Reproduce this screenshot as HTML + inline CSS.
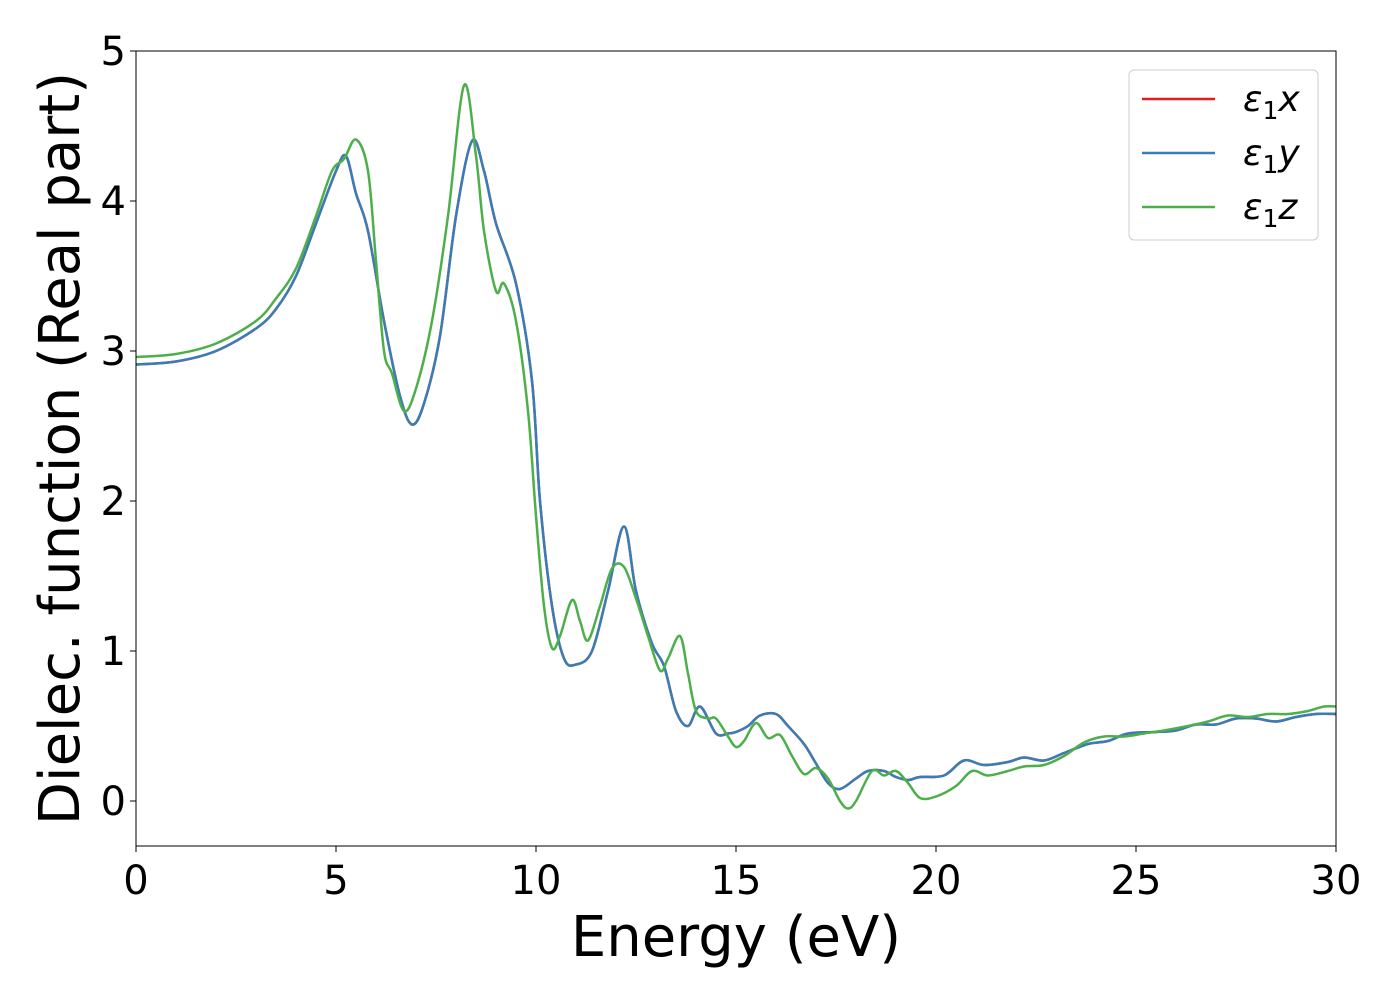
<!DOCTYPE html>
<html><head><meta charset="utf-8"><style>
body{margin:0;background:#fff}
svg text{font-family:"DejaVu Sans","Liberation Sans",sans-serif;fill:#000}
</style></head><body>
<svg width="1400" height="1000" viewBox="0 0 1400 1000">
<g id="plot"></g>
</svg>
<script>
const energyX = [0,1,2,3,3.5,4,4.5,5,5.25,5.5,5.8,6.2,6.6,6.9,7.2,7.6,8.0,8.4,8.7,9.0,9.5,9.9,10.1,10.4,10.7,11.0,11.4,11.8,12.2,12.5,12.9,13.2,13.5,13.8,14.1,14.5,14.8,15.0,15.3,15.6,16.0,16.3,16.7,17.0,17.3,17.6,18.0,18.3,18.7,19.0,19.3,19.6,20.2,20.7,21.2,21.8,22.2,22.7,23.2,23.8,24.3,24.8,25.5,26,26.5,27,27.5,28,28.5,29,29.5,30];
const eps1x = [2.91,2.93,3.0,3.15,3.28,3.5,3.85,4.2,4.3,4.05,3.8,3.2,2.7,2.51,2.65,3.1,3.9,4.4,4.2,3.85,3.45,2.8,2.0,1.3,0.95,0.91,1.0,1.4,1.83,1.4,1.05,0.9,0.6,0.5,0.63,0.45,0.45,0.46,0.5,0.57,0.58,0.5,0.38,0.25,0.12,0.08,0.15,0.2,0.2,0.16,0.14,0.16,0.17,0.27,0.24,0.26,0.29,0.27,0.32,0.38,0.4,0.45,0.46,0.47,0.51,0.51,0.55,0.55,0.53,0.56,0.58,0.58];
const eps1y = eps1x.slice();
const energyZ = [0,1,2,3,3.5,4,4.5,4.9,5.2,5.5,5.8,6.0,6.2,6.4,6.7,7.0,7.4,7.8,8.2,8.5,8.7,9.0,9.2,9.5,9.8,10.0,10.2,10.4,10.6,10.9,11.1,11.3,11.6,11.9,12.2,12.5,12.8,13.1,13.3,13.6,13.8,14.0,14.3,14.5,14.8,15.0,15.2,15.5,15.8,16.1,16.4,16.7,17.0,17.3,17.6,17.8,18.0,18.4,18.7,19.0,19.3,19.6,20.0,20.5,20.9,21.3,21.8,22.2,22.7,23.2,23.7,24.2,24.7,25.2,25.7,26.3,26.8,27.3,27.8,28.3,28.8,29.3,29.7,30];
const eps1z = [2.96,2.98,3.05,3.2,3.35,3.55,3.9,4.2,4.28,4.41,4.2,3.6,3.0,2.85,2.6,2.75,3.2,3.9,4.77,4.3,3.8,3.4,3.45,3.2,2.6,1.9,1.3,1.02,1.1,1.34,1.2,1.07,1.3,1.55,1.56,1.35,1.1,0.87,0.95,1.1,0.85,0.6,0.55,0.55,0.43,0.36,0.4,0.52,0.42,0.44,0.3,0.18,0.22,0.15,0.0,-0.05,0.0,0.2,0.17,0.2,0.12,0.02,0.03,0.1,0.2,0.17,0.2,0.23,0.24,0.3,0.39,0.43,0.43,0.45,0.47,0.5,0.53,0.57,0.56,0.58,0.58,0.6,0.63,0.63];
const xTicks = [0,5,10,15,20,25,30];
const yTicks = [0,1,2,3,4,5];

const L=136,R=1336,T=51,B=846;
const xMin=0,xMax=30,yMin=-0.3,yMax=5;
const sx=v=>L+(v-xMin)/(xMax-xMin)*(R-L);
const sy=v=>B-(v-yMin)/(yMax-yMin)*(B-T);
const NS="http://www.w3.org/2000/svg";
const g=document.getElementById('plot');
function mk(tag,attrs){const e=document.createElementNS(NS,tag);for(const k in attrs)e.setAttribute(k,attrs[k]);g.appendChild(e);return e;}
function pathFor(xs,ys){
  const p=xs.map((x,i)=>[sx(x),sy(ys[i])]);
  let d=`M${p[0][0]},${p[0][1]}`;
  for(let i=0;i<p.length-1;i++){
    const p0=p[i-1]||p[i],p1=p[i],p2=p[i+1],p3=p[i+2]||p2;
    const c1=[p1[0]+(p2[0]-p0[0])/6,p1[1]+(p2[1]-p0[1])/6];
    const c2=[p2[0]-(p3[0]-p1[0])/6,p2[1]-(p3[1]-p1[1])/6];
    d+=` C${c1[0]},${c1[1]} ${c2[0]},${c2[1]} ${p2[0]},${p2[1]}`;
  }
  return d;
}
const defs=mk('clipPath',{id:'clip'});
const cr=document.createElementNS(NS,'rect');cr.setAttribute('x',L);cr.setAttribute('y',T);cr.setAttribute('width',R-L);cr.setAttribute('height',B-T);defs.appendChild(cr);

const series=[[energyX,eps1x,'#e41a1c','series-eps1x'],[energyX,eps1y,'#377eb8','series-eps1y'],[energyZ,eps1z,'#4daf4a','series-eps1z']];
series.forEach(s=>{
  const e=mk('path',{d:pathFor(s[0],s[1]),fill:'none',stroke:s[2],'stroke-width':2.5,'clip-path':'url(#clip)'});
  
  
});
const frame=mk('rect',{x:L,y:T,width:R-L,height:B-T,fill:'none',stroke:'#000','stroke-width':1});


xTicks.forEach(v=>{
  mk('line',{x1:sx(v),x2:sx(v),y1:B,y2:B+6,stroke:'#000'});
  const t=mk('text',{x:sx(v),y:B+48,'text-anchor':'middle','font-size':40});
  t.textContent=v;
  
  
});
yTicks.forEach(v=>{
  mk('line',{x1:L-6,x2:L,y1:sy(v),y2:sy(v),stroke:'#000'});
  const t=mk('text',{x:L-10,y:sy(v)+14,'text-anchor':'end','font-size':40});
  t.textContent=v;
  
  
});
const xt=mk('text',{x:(L+R)/2,y:956,'text-anchor':'middle','font-size':56});
xt.textContent='Energy (eV)';


const yt=mk('text',{x:0,y:0,'text-anchor':'middle','font-size':56,transform:`translate(79,${(T+B)/2}) rotate(-90)`});
yt.textContent='Dielec. function (Real part)';


const lg=mk('rect',{x:1129,y:70,width:189,height:170,rx:5,fill:'#fff',stroke:'#ccc','fill-opacity':0.8});


[['x','#e41a1c',99],['y','#377eb8',153],['z','#4daf4a',207]].forEach(l=>{
  mk('line',{x1:1142,x2:1215,y1:l[2],y2:l[2],stroke:l[1],'stroke-width':2.5});
  const t=mk('text',{x:1243,y:l[2]+12,'font-size':36,'font-style':'italic'});
  t.innerHTML=`ε<tspan font-style="normal" font-size="25" dy="8">1</tspan><tspan dy="-8">${l[0]}</tspan>`;
  
  
});
</script>
</body></html>
